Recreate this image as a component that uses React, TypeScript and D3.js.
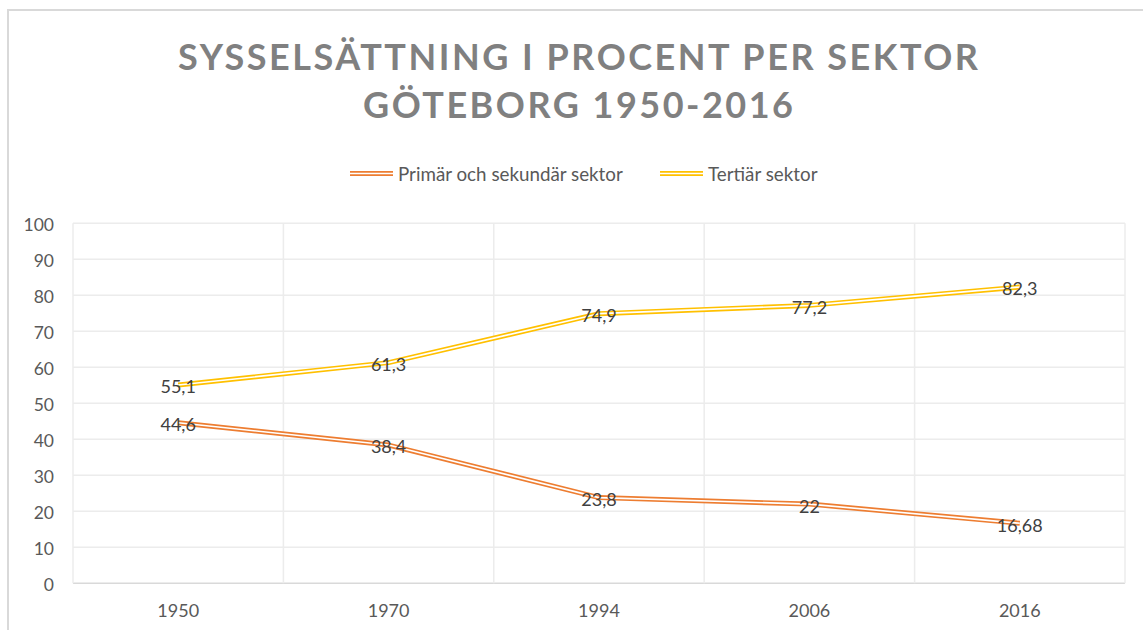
import React from "react";
import * as d3 from "d3";

const categories = ["1950", "1970", "1994", "2006", "2016"];
const primarValues = [44.6, 38.4, 23.8, 22, 16.68];
const tertiarValues = [55.1, 61.3, 74.9, 77.2, 82.3];
const primarLabels = ["44,6", "38,4", "23,8", "22", "16,68"];
const tertiarLabels = ["55,1", "61,3", "74,9", "77,2", "82,3"];
const yTicks = [0, 10, 20, 30, 40, 50, 60, 70, 80, 90, 100];
const seriesNames = ["Primär och sekundär sektor", "Tertiär sektor"];
const titleLines = ["SYSSELSÄTTNING I PROCENT PER SEKTOR", "GÖTEBORG 1950-2016"];

const W = 1143;
const H = 630;
const FONT = "Lato, 'Open Sans', sans-serif";

export default function App() {
  const x = d3.scaleBand<string>().domain(categories).range([73, 1125]).padding(0);
  const y = d3.scaleLinear().domain([0, 100]).range([583.3, 223.3]);
  const cx = (c: string) => (x(c) as number) + x.bandwidth() / 2;

  const line = d3
    .line<number>()
    .x((_, i) => cx(categories[i]))
    .y((d) => y(d));

  const series = [
    { name: seriesNames[0], values: primarValues, labels: primarLabels, color: "#ED7D31" },
    { name: seriesNames[1], values: tertiarValues, labels: tertiarLabels, color: "#FFC000" },
  ];

  const boundaries = categories.map((c) => x(c) as number).concat([1125]);

  return (
    <svg
      width={W}
      height={H}
      style={{ position: "absolute", left: 0, top: 0, background: "#fff" }}
      fontFamily={FONT}
    >
      <rect x={0} y={0} width={W} height={H} fill="#fff" />
      <rect x={8} y={10} width={W + 20} height={H + 20} fill="#fff" stroke="#d9d9d9" strokeWidth={2} />

      {/* Title */}
      <text x={578} y={70} textAnchor="middle" fontSize={36} fontWeight={700} fill="#808080" textLength={800} lengthAdjust="spacing">
        {titleLines[0]}
      </text>
      <text x={578} y={118} textAnchor="middle" fontSize={36} fontWeight={700} fill="#808080" textLength={430} lengthAdjust="spacing">
        {titleLines[1]}
      </text>

      {/* Legend */}
      {[
        { sx: 350, tx: 398 },
        { sx: 660, tx: 708 },
      ].map((p, i) => (
        <g key={i}>
          <line x1={p.sx} x2={p.sx + 43} y1={173.5} y2={173.5} stroke={series[i].color} strokeWidth={5} />
          <line x1={p.sx} x2={p.sx + 43} y1={173.5} y2={173.5} stroke="#fff" strokeWidth={1.6} />
          <text x={p.tx} y={181} fontSize={18.8} fill="#595959">
            {series[i].name}
          </text>
        </g>
      ))}

      {/* Horizontal gridlines */}
      {yTicks.map((t) => (
        <line
          key={"h" + t}
          x1={73}
          x2={1125}
          y1={y(t)}
          y2={y(t)}
          stroke={t === 0 ? "#d9d9d9" : "#ececec"}
          strokeWidth={1.5}
        />
      ))}
      {/* Vertical gridlines */}
      {boundaries.map((b, i) => (
        <line key={"v" + i} x1={b} x2={b} y1={y(100)} y2={y(0)} stroke="#ececec" strokeWidth={1.5} />
      ))}

      {/* Y tick labels */}
      {yTicks.map((t) => (
        <text key={"yt" + t} x={54} y={y(t) + 8} textAnchor="end" fontSize={17.5} fill="#595959">
          {t}
        </text>
      ))}

      {/* X labels */}
      {categories.map((c) => (
        <text key={"xc" + c} x={cx(c)} y={616.5} textAnchor="middle" fontSize={18} fill="#595959">
          {c}
        </text>
      ))}

      {/* Lines (compound double style) */}
      {series.map((s, i) => (
        <g key={"s" + i}>
          <path d={line(s.values) || ""} fill="none" stroke={s.color} strokeWidth={5} strokeLinejoin="round" />
          <path d={line(s.values) || ""} fill="none" stroke="#fff" strokeWidth={1.6} strokeLinejoin="round" />
        </g>
      ))}

      {/* Data labels */}
      {series.map((s, i) =>
        s.values.map((v, j) => (
          <text
            key={"dl" + i + "-" + j}
            x={cx(categories[j])}
            y={y(v) + 8.4}
            textAnchor="middle"
            fontSize={18}
            fill="#404040"
          >
            {s.labels[j]}
          </text>
        ))
      )}
    </svg>
  );
}
